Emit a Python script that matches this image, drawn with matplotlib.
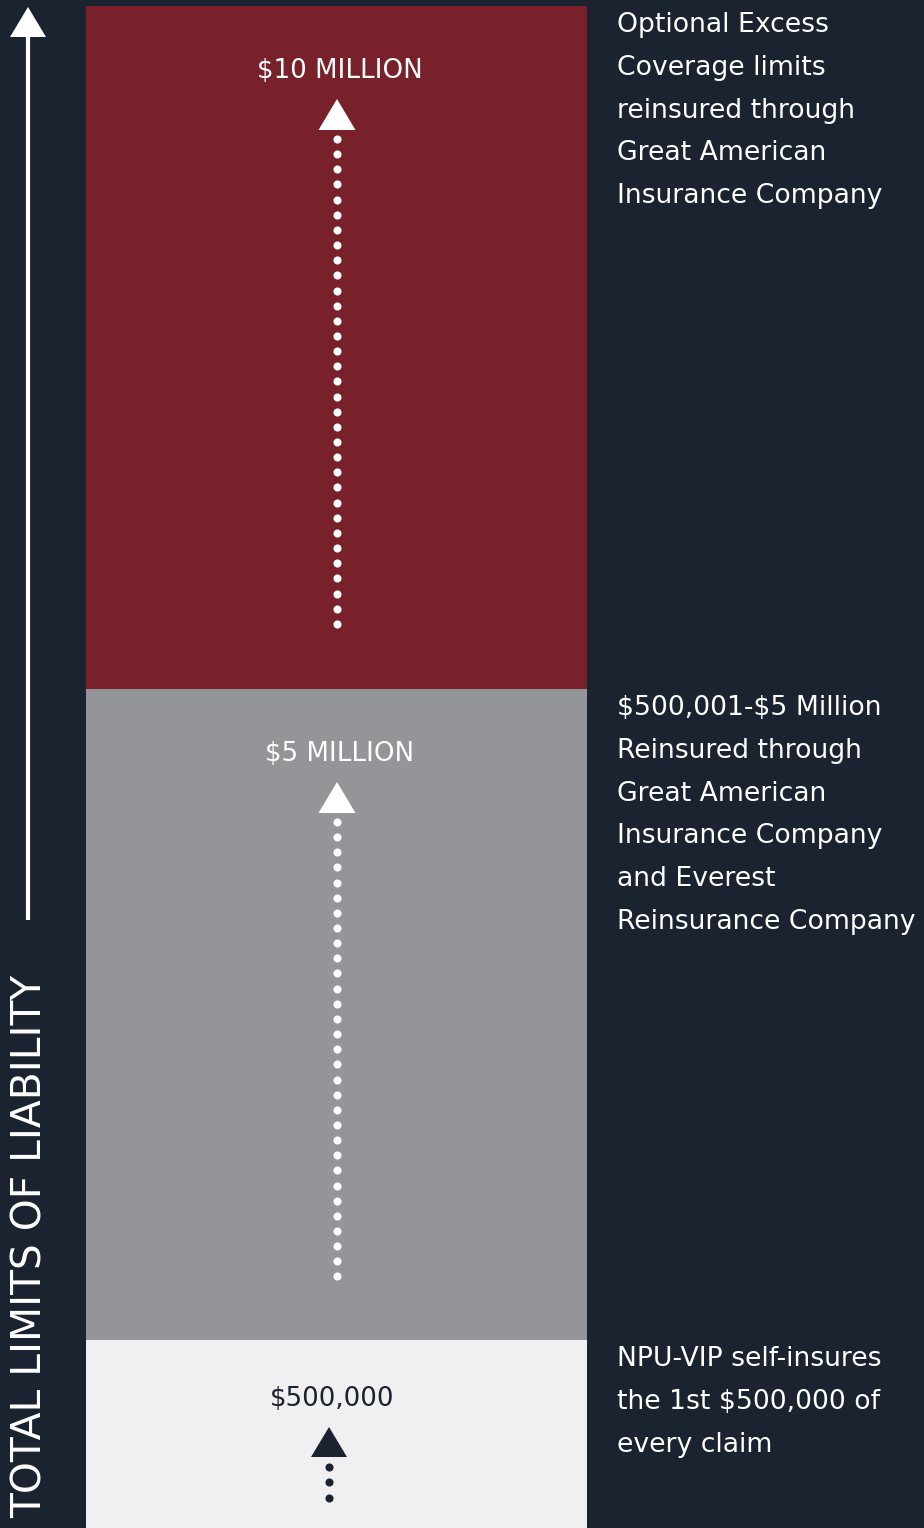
import matplotlib
matplotlib.use("Agg")
import matplotlib.pyplot as plt
import numpy as np

plt.rcParams['font.family'] = ['DejaVu Sans']
plt.rcParams['text.parse_math'] = False

# tiers, bottom to top
tier_labels = ["$500,000", "$5 MILLION", "$10 MILLION"]
tier_span = [188, 651, 683]          # drawn height of each band (not to scale)
tier_colors = ["#f0f0f2", "#939598", "#78212a"]
tier_text_colors = ["#1b2230", "white", "white"]
tier_notes = [
    ["NPU-VIP self-insures", "the 1st $500,000 of", "every claim"],
    ["$500,001-$5 Million", "Reinsured through", "Great American",
     "Insurance Company", "and Everest", "Reinsurance Company"],
    ["Optional Excess", "Coverage limits", "reinsured through",
     "Great American", "Insurance Company"],
]
axis_title = "TOTAL LIMITS OF LIABILITY"

bg = "#1b2230"
W, H = 924, 1528

fig = plt.figure(figsize=(W / 100, H / 100), dpi=100, facecolor=bg)
ax = fig.add_axes([0, 0, 1, 1])
ax.set_facecolor(bg)
ax.set_xlim(0, W)
ax.set_ylim(0, H)
ax.axis("off")

bar_x0, bar_x1 = 86, 587
bar_c = (bar_x0 + bar_x1) / 2
bottoms = np.concatenate([[0], np.cumsum(tier_span)[:-1]])
ax.bar([bar_c] * 3, tier_span, bottom=bottoms, width=bar_x1 - bar_x0,
       color=tier_colors, linewidth=0)

line_gap = 42.8
for i in range(3):
    top = bottoms[i] + tier_span[i]
    col = tier_text_colors[i]
    if i == 0:
        cx = 329
        ax.text(332, top - 59, tier_labels[i], color=col, fontsize=18.8,
                ha="center", va="center")
        tri_top = top - 87
        ax.fill([cx - 18, cx + 18, cx], [tri_top - 30, tri_top - 30, tri_top],
                color=col, lw=0)
        dots_y = np.array([tri_top - 40, tri_top - 55, tri_top - 71])
    else:
        cx = 337
        ax.text(340, top - 65, tier_labels[i], color=col, fontsize=18.8,
                ha="center", va="center")
        tri_top = top - 93
        ax.fill([cx - 18.5, cx + 18.5, cx], [tri_top - 31, tri_top - 31, tri_top],
                color=col, lw=0)
        dots_y = np.arange(tri_top - 40, bottoms[i] + 58, -15.15)
    ax.scatter(np.full(len(dots_y), cx), dots_y, s=34, color=col, lw=0)

    # notes on the right
    for j, line in enumerate(tier_notes[i]):
        ax.text(617, top - 19 - j * line_gap, line, color="white",
                fontsize=19.2, ha="left", va="center")

# left axis arrow
ax.plot([28, 28], [H - 920, H - 36], color="white", lw=3, solid_capstyle="butt")
ax.fill([10, 46, 28], [H - 37, H - 37, H - 7], color="white", lw=0)
ax.text(42, H - 975, axis_title, color="white", fontsize=29.3, rotation=90,
        rotation_mode="anchor", ha="right", va="baseline")

fig.savefig("out.png", dpi=100, facecolor=bg)
